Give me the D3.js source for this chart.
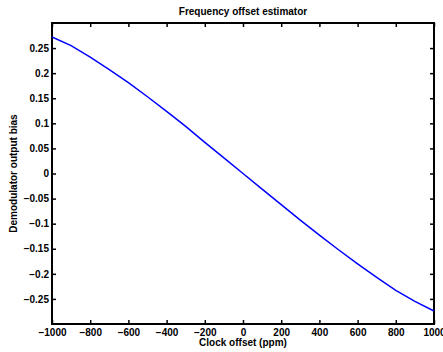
<!DOCTYPE html>
<html>
<head>
<meta charset="utf-8">
<script src="https://cdn.jsdelivr.net/npm/d3@7"></script>
<style>
  body { margin: 0; background: #fff; }
  text { font-family: "Liberation Sans", Arial, sans-serif; font-weight: bold; }
</style>
</head>
<body>
<div id="chart"></div>
<script>
// clock offset (ppm) and demodulator bias
const offsets = [-1000, -900, -800, -700, -600, -500, -400, -300, -200, -100, 0,
  100, 200, 300, 400, 500, 600, 700, 800, 900, 1000]
const bias = [0.272, 0.255, 0.232, 0.207, 0.181, 0.153, 0.124, 0.094, 0.062, 0.031, 0,
  -0.031, -0.062, -0.093, -0.123, -0.152, -0.180, -0.207, -0.233, -0.255, -0.274]
const xTicks = [-1000, -800, -600, -400, -200, 0, 200, 400, 600, 800, 1000]
const yTicks = [-0.25, -0.2, -0.15, -0.1, -0.05, 0, 0.05, 0.1, 0.15, 0.2, 0.25]

const fullWidth = 443,
  fullHeight = 352,
  margin = { top: 23, right: 9, bottom: 28, left: 52 },
  width = fullWidth - margin.left - margin.right,
  height = fullHeight - margin.top - margin.bottom

const svg = d3.select('#chart')
  .append('svg')
  .attr('width', fullWidth)
  .attr('height', fullHeight)

const g = svg.append('g')
  .attr('transform', `translate(${margin.left}, ${margin.top})`)

const x = d3.scaleLinear().domain([-1000, 1000]).range([0, width])
const y = d3.scaleLinear().domain([-0.3, 0.3]).range([height, 0])

const fmt = v => (v < 0 ? '\u2212' : '') + String(Math.abs(+v.toFixed(2)))

function styleAxis (sel) {
  sel.select('.domain').remove()
  sel.selectAll('.tick line').attr('stroke', '#000').attr('stroke-width', 1.5)
  sel.selectAll('.tick text').attr('fill', '#000').style('font-size', '10px')
}

// bottom / top
g.append('g')
  .attr('transform', `translate(0, ${height})`)
  .call(d3.axisBottom(x).tickValues(xTicks).tickSize(-4).tickPadding(5).tickFormat(fmt))
  .call(styleAxis)
g.append('g')
  .call(d3.axisTop(x).tickValues(xTicks).tickSize(-4).tickFormat(''))
  .call(styleAxis)

// left / right
g.append('g')
  .call(d3.axisLeft(y).tickValues(yTicks).tickSize(-4).tickPadding(3).tickFormat(fmt))
  .call(styleAxis)
g.append('g')
  .attr('transform', `translate(${width}, 0)`)
  .call(d3.axisRight(y).tickValues(yTicks).tickSize(-4).tickFormat(''))
  .call(styleAxis)

g.append('rect')
  .attr('width', width)
  .attr('height', height)
  .attr('fill', 'none')
  .attr('stroke', '#000')
  .attr('stroke-width', 2)

const line = d3.line()
  .x((d, i) => x(offsets[i]))
  .y(d => y(d))

g.append('path')
  .datum(bias)
  .attr('d', line)
  .attr('fill', 'none')
  .attr('stroke', '#0000ff')
  .attr('stroke-width', 1.5)

svg.append('text')
  .attr('x', margin.left + width / 2)
  .attr('y', 15)
  .attr('text-anchor', 'middle')
  .style('font-size', '10px')
  .text('Frequency offset estimator')

svg.append('text')
  .attr('x', margin.left + width / 2)
  .attr('y', 346)
  .attr('text-anchor', 'middle')
  .style('font-size', '10px')
  .text('Clock offset (ppm)')

svg.append('text')
  .attr('transform', `translate(17, ${margin.top + height / 2}) rotate(-90)`)
  .attr('text-anchor', 'middle')
  .style('font-size', '10px')
  .text('Demodulator output bias')
</script>
</body>
</html>
